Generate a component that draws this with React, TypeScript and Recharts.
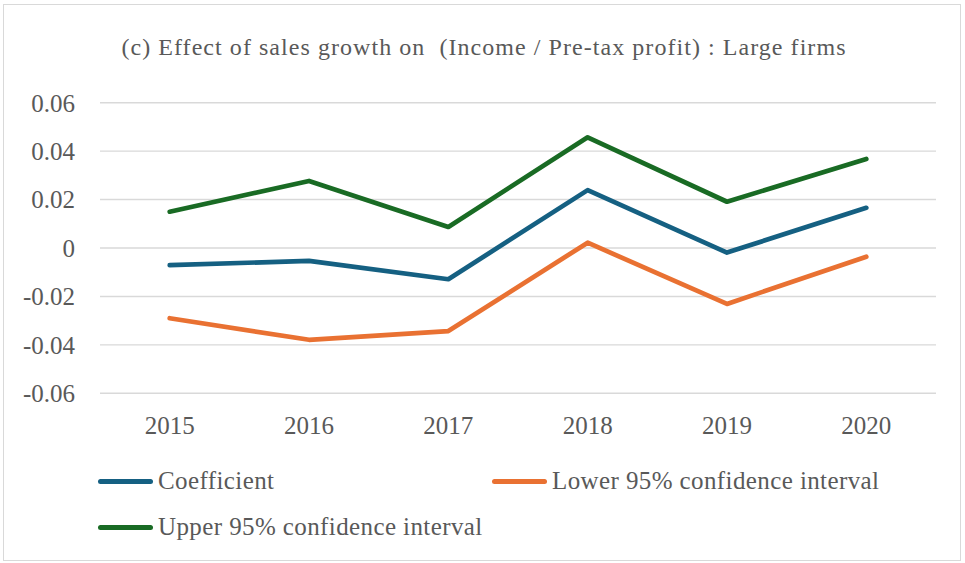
import React from 'react'
import { LineChart, Line, XAxis, YAxis, CartesianGrid } from 'recharts'

const years = ['2015', '2016', '2017', '2018', '2019', '2020']
const coefficient = [-0.0071, -0.0053, -0.0129, 0.0239, -0.0019, 0.0166]
const lower95 = [-0.029, -0.0379, -0.0343, 0.0022, -0.0231, -0.0036]
const upper95 = [0.015, 0.0277, 0.0087, 0.0457, 0.0191, 0.0368]
const yTicks = [-0.06, -0.04, -0.02, 0, 0.02, 0.04, 0.06]

const seriesList = [
  { key: 'coef', name: 'Coefficient', color: '#156082' },
  { key: 'lower', name: 'Lower 95% confidence interval', color: '#E97132' },
  { key: 'upper', name: 'Upper 95% confidence interval', color: '#196B24' },
]

const data = years.map((year, i) => ({
  year,
  coef: coefficient[i],
  lower: lower95[i],
  upper: upper95[i],
}))

const font = "'Liberation Serif', 'Times New Roman', serif"
const textColor = '#595959'

// legend slots, laid out like the Excel legend (two columns, two rows)
const legendSlots = [
  { left: 98, top: 481 },
  { left: 492, top: 481 },
  { left: 98, top: 527 },
]

function App() {
  return (
    <div style={{ position: 'absolute', left: 0, top: 0, width: 965, height: 563, background: '#fff', fontFamily: font }}>
      <div style={{ position: 'absolute', left: 3, top: 4, width: 958, height: 557, border: '1px solid #d9d9d9', boxSizing: 'border-box' }} />
      <div
        style={{
          position: 'absolute', left: 0, top: 30, width: 968, textAlign: 'center', fontFamily: font,
          fontSize: 24, letterSpacing: 1.05, color: textColor, lineHeight: '34px', whiteSpace: 'pre',
        }}
      >
        (c) Effect of sales growth on  (Income / Pre-tax profit) : Large firms
      </div>
      <LineChart width={965} height={563} data={data} margin={{ top: 102.7, right: 29, left: 0, bottom: 0 }}
        style={{ fontFamily: font }}>
        <CartesianGrid vertical={false} stroke="#d9d9d9" strokeWidth={1.4} />
        <XAxis
          dataKey="year"
          height={169.7}
          axisLine={false}
          tickLine={false}
          tickMargin={17}
          padding={{ left: 69.7, right: 69.7 }}
          tick={{ fill: textColor, fontSize: 25, style: { fontFamily: font } }}
        />
        <YAxis
          width={100}
          domain={[-0.06, 0.06]}
          ticks={yTicks}
          axisLine={false}
          tickLine={false}
          tickMargin={19}
          tickFormatter={(v: number) => (v === 0 ? '0' : v.toFixed(2))}
          tick={{ fill: textColor, fontSize: 25, style: { fontFamily: font } }}
        />
        {seriesList.map(s => (
          <Line
            key={s.key}
            type="linear"
            dataKey={s.key}
            name={s.name}
            stroke={s.color}
            strokeWidth={4.7}
            strokeLinecap="round"
            strokeLinejoin="round"
            dot={false}
            activeDot={false}
            isAnimationActive={false}
          />
        ))}
      </LineChart>
      {seriesList.map((s, i) => (
        <div
          key={s.key}
          style={{
            position: 'absolute', left: legendSlots[i].left, top: legendSlots[i].top - 17,
            height: 34, display: 'flex', alignItems: 'center', whiteSpace: 'nowrap',
          }}
        >
          <span style={{ display: 'inline-block', width: 55, height: 5, borderRadius: 3, background: s.color, marginRight: 5 }} />
          <span style={{ fontFamily: font, fontSize: 25, letterSpacing: 0.4, color: textColor, lineHeight: '34px' }}>{s.name}</span>
        </div>
      ))}
    </div>
  )
}

export default App
